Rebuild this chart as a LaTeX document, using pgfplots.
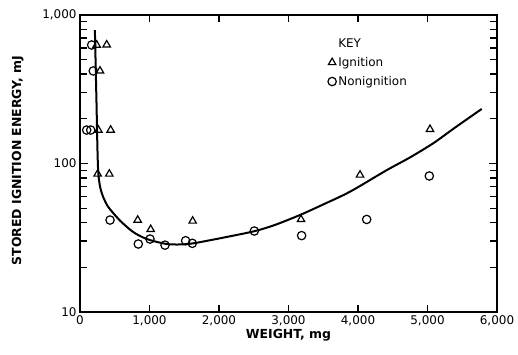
\documentclass[border=0pt]{standalone}
\usepackage{pgfplots}
\pgfplotsset{compat=1.18}
\usepackage{pgfplotstable}
\usepackage{fontspec}
\setmainfont{DejaVu Sans}
\pgfplotstableread{
x y
240 628
384 630
288 420
264 168
441 168
254 85
422 85
830 41.6
1017 36
1621 41
3180 42
4029 83.7
5036 170
}\ignition
\pgfplotstableread{
x y
168 628
191 420
96 168
154 168
432 41.6
839 28.7
1007 31
1223 28.2
1520 30.2
1616 29
2508 35.1
3189 32.7
4125 42
5026 82.4
}\nonignition
\pgfplotstableread{
x y
214 790
220 600
228 400
238 250
246 160
253 115
260 92
270 80
288 70
310 64
340 58.5
400 51.5
479 46.3
570 41.5
672 37.5
760 34.7
863 32.5
1007 30.5
1247 28.7
1450 28.5
1630 29
1850 30.3
2110 32
2508 35
2800 38.5
3165 45
3500 53
3885 64.6
4410 90
4750 110
5084 137
5400 175
5780 233
}\curve
\begin{document}
\begin{tikzpicture}
\begin{axis}[
  scale only axis, width=417bp, height=297bp,
  xmin=0, xmax=6000, ymode=log, ymin=10, ymax=1000,
  xtick={0,1000,2000,3000,4000,5000,6000},
  xticklabels={0,{1,000},{2,000},{3,000},{4,000},{5,000},{6,000}},
  ytick={10,100,1000}, yticklabels={10,100,{1,000}},
  tick style={draw=none},
  axis line style={line width=1.6bp},
  ticklabel style={font=\fontsize{12}{14}\selectfont},
  /pgf/number format/assume math mode=true,
  xlabel={\bfseries WEIGHT, mg},
  ylabel={\bfseries STORED IGNITION ENERGY, mJ},
  label style={font=\fontsize{12.5}{14}\selectfont},
  xlabel style={at={(axis description cs:0.5,-0.077)}, anchor=center},
  ylabel style={at={(axis description cs:-0.149,0.51)}, anchor=center},
  legend style={at={(axis description cs:0.58,0.935)}, anchor=north west, draw=none, fill=none,
    font=\fontsize{12}{14}\selectfont, row sep=4.5bp,
    /tikz/every even column/.append style={column sep=3bp}},
  legend image code/.code={\draw[#1] plot coordinates {(0.25cm,0cm)};},
  legend cell align=left,
  extra description/.code={
    \foreach \f in {0.16667,0.33333,0.5,0.66667,0.83333} {
      \draw[line width=1.3bp, black] (axis description cs:\f,0) -- (axis description cs:\f,0.0236);
      \draw[line width=1.3bp, black] (axis description cs:\f,1) -- (axis description cs:\f,0.9764);
    }
    \draw[line width=1.3bp, black] (axis description cs:0,0.5) -- (axis description cs:0.0192,0.5);
    \draw[line width=1.3bp, black] (axis description cs:1,0.5) -- (axis description cs:0.9808,0.5);
    \foreach \f in {0.1505,0.2386,0.3010,0.3495,0.3891,0.4225,0.4515,0.4771,0.6505,0.7386,0.8010,0.8495,0.8891,0.9225,0.9515,0.9771} {
      \draw[line width=1.3bp, black] (axis description cs:0,\f) -- (axis description cs:0.0156,\f);
      \draw[line width=1.3bp, black] (axis description cs:1,\f) -- (axis description cs:0.9844,\f);
    }
  },
]
\addplot[black, line width=2bp, smooth, forget plot] table[x=x,y=y] {\curve};
\addlegendimage{empty legend}\addlegendentry{KEY}
\addplot[only marks, mark=triangle, mark size=4.3bp, mark options={line width=1.2bp, black, fill=none}] table[x=x,y=y] {\ignition};
\addlegendentry{Ignition}
\addplot[only marks, mark=o, mark size=4.2bp, mark options={line width=1.2bp, black, fill=none}] table[x=x,y=y] {\nonignition};
\addlegendentry{Nonignition}
\end{axis}
\pgfresetboundingbox
\path (-80bp,-43bp) rectangle (438bp,312bp);
\end{tikzpicture}
\end{document}
